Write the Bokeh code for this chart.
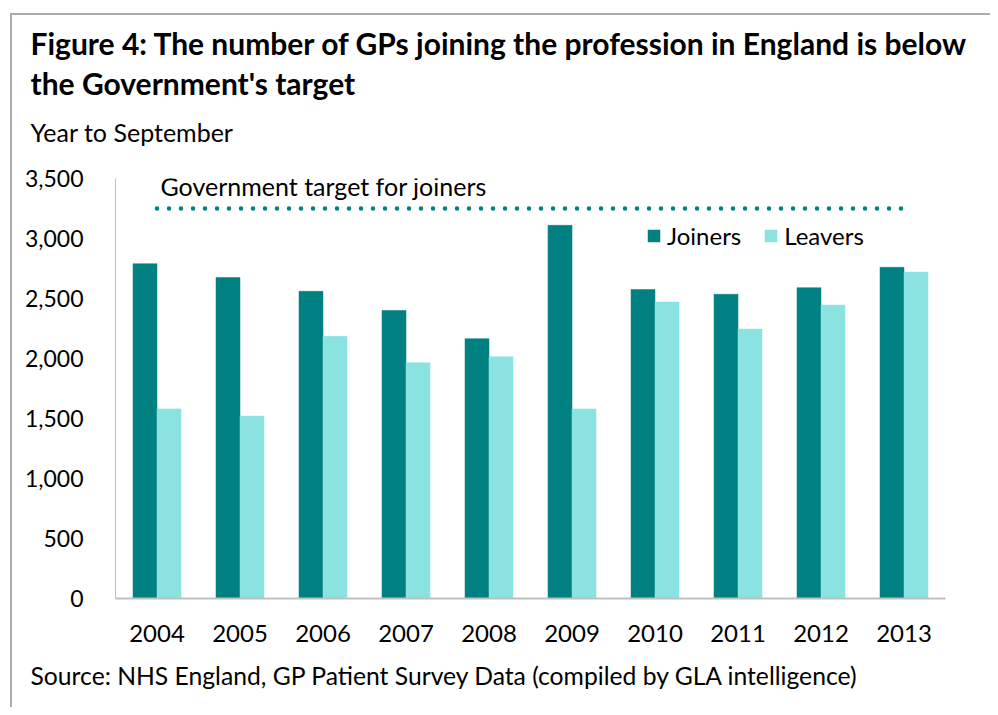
from bokeh.plotting import figure
from bokeh.models import (ColumnDataSource, FactorRange, Range1d, FixedTicker, NumeralTickFormatter,
                          Label, Legend, LegendItem, Title)
from bokeh.transform import dodge
from bokeh.embed import file_html
from bokeh.resources import INLINE

# ---- data ----
years = ["2004", "2005", "2006", "2007", "2008", "2009", "2010", "2011", "2012", "2013"]
joiners = [2790, 2675, 2560, 2400, 2165, 3110, 2575, 2535, 2590, 2760]
leavers = [1580, 1520, 2185, 1965, 2015, 1580, 2470, 2245, 2445, 2720]
target = 3250
y_ticks = [0, 500, 1000, 1500, 2000, 2500, 3000, 3500]

title_lines = ["Figure 4: The number of GPs joining the profession in England is below",
               "the Government's target"]
subtitle = "Year to September"
target_label = "Government target for joiners"
source_note = "Source: NHS England, GP Patient Survey Data (compiled by GLA intelligence)"
series_names = ["Joiners", "Leavers"]

# ---- style ----
FONT = "Lato"
C_JOIN = "#008080"
C_LEAVE = "#8AE3E1"
GREY = "#BFBFBF"
BORDER = "#ADADAD"
TXT = "#000000"

W, H = 990, 707
ML, MT, MR, MB = 115, 178, W - 945, H - 598

src = ColumnDataSource(dict(year=years, joiners=joiners, leavers=leavers))

p = figure(width=W, height=H, x_range=FactorRange(*years, range_padding=0),
           y_range=Range1d(0, 3500), output_backend="svg", toolbar_location=None,
           min_border_left=ML, min_border_right=MR, min_border_top=MT, min_border_bottom=MB)
p.title = None
p.outline_line_color = None
p.background_fill_color = "white"
p.border_fill_alpha = 0
p.grid.grid_line_color = None
p.styles = {
    "background": ("linear-gradient(%s, %s) 10px 13px / 2px 1000px no-repeat, "
                   "linear-gradient(%s, %s) 10px 13px / 2000px 2px no-repeat, #ffffff")
                  % (BORDER, BORDER, BORDER, BORDER)
}

bw = 0.289
r1 = p.vbar(x=dodge("year", -bw / 2, range=p.x_range), top="joiners", width=bw, source=src,
            fill_color=C_JOIN, line_color=C_JOIN, line_width=0.5)
r2 = p.vbar(x=dodge("year", bw / 2, range=p.x_range), top="leavers", width=bw, source=src,
            fill_color=C_LEAVE, line_color=C_LEAVE, line_width=0.5)

# target dotted line
p.line(x=[years[0], years[-1]], y=[target, target], line_color=C_JOIN, line_width=4.5,
       line_dash="0 12", line_cap="round")

# axes
xa = p.xaxis[0]
xa.axis_line_color = GREY
xa.axis_line_width = 2
xa.major_tick_line_color = None
xa.minor_tick_line_color = None
xa.major_label_standoff = 20
xa.major_label_text_font = FONT
xa.major_label_text_font_size = "24px"
xa.major_label_text_color = TXT

ya = p.yaxis[0]
ya.ticker = FixedTicker(ticks=y_ticks)
ya.formatter = NumeralTickFormatter(format="0,0")
ya.axis_line_color = GREY
ya.axis_line_width = 1
ya.major_tick_line_color = None
ya.minor_tick_line_color = None
ya.major_label_standoff = 26
ya.major_label_text_font = FONT
ya.major_label_text_font_size = "23px"
ya.major_label_text_color = TXT

# legend
legend = Legend(items=[LegendItem(label=series_names[0], renderers=[r1]),
                       LegendItem(label=series_names[1], renderers=[r2])],
                orientation="horizontal", location=(531, 348),
                glyph_width=15, glyph_height=15, label_standoff=6, spacing=22,
                padding=0, margin=0, border_line_color=None, background_fill_alpha=0,
                label_text_font=FONT, label_text_font_size="24px", label_text_color=TXT)
p.add_layout(legend)

# target label inside the plot area
p.add_layout(Label(x=45, y=413, x_units="screen", y_units="screen", text=target_label,
                   text_font=FONT, text_font_size="25px", text_color=TXT,
                   text_baseline="middle", text_align="left"))

# title, subtitle (stacked outward from the frame) and source note
def mk_title(text, size, bold, standoff):
    return Title(text=text, align="left", offset=30 - ML, standoff=standoff,
                 text_font=FONT, text_font_size=size, text_color=TXT,
                 text_font_style="bold" if bold else "normal")

p.add_layout(mk_title(subtitle, "25px", False, 63), "above")
p.add_layout(mk_title(title_lines[1], "30px", True, -34), "above")
p.add_layout(mk_title(title_lines[0], "30px", True, 38), "above")
p.add_layout(mk_title(source_note, "24.7px", False, 28), "below")

open("out.html", "w").write(file_html(p, INLINE))
